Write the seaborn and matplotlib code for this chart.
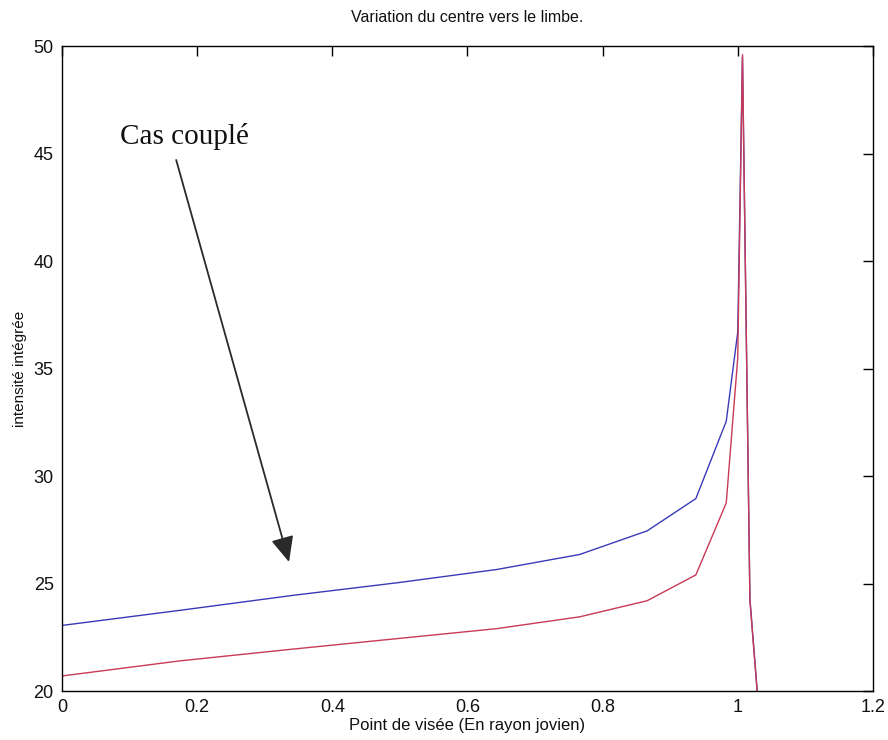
import matplotlib
matplotlib.use("Agg")
import matplotlib.pyplot as plt
import seaborn as sns
import pandas as pd

# ---- data ----
x_pos = [0.0, 0.174, 0.342, 0.5, 0.643, 0.766, 0.866, 0.938, 0.983, 1.0, 1.007, 1.018, 1.029]
blue_vals = [23.05, 23.75, 24.45, 25.05, 25.65, 26.35, 27.45, 28.95, 32.55, 36.7, 49.5, 24.3, 19.9]
red_vals = [20.7, 21.4, 21.95, 22.45, 22.9, 23.45, 24.2, 25.4, 28.75, 35.5, 49.6, 24.2, 19.9]
x_ticks = [0, 0.2, 0.4, 0.6, 0.8, 1.0, 1.2]
x_tick_labels = ["0", "0.2", "0.4", "0.6", "0.8", "1", "1.2"]
y_ticks = [20, 25, 30, 35, 40, 45, 50]

title = "Variation du centre vers le limbe."
xlabel = "Point de visée (En rayon jovien)"
ylabel = "intensité intégrée"
note = "Cas couplé"

sns.set_theme(style="white")
plt.rcParams['font.family'] = ['Liberation Sans', 'DejaVu Sans']

df_blue = pd.DataFrame({"x": x_pos, "y": blue_vals})
df_red = pd.DataFrame({"x": x_pos, "y": red_vals})

fig = plt.figure(figsize=(8.88, 7.40), dpi=100)
ax = fig.add_axes([0.0698, 0.0662, 0.9132, 0.8716])

sns.lineplot(data=df_blue, x="x", y="y", ax=ax, color="#3a3ab8", lw=1.0,
             sort=False, estimator=None)
sns.lineplot(data=df_red, x="x", y="y", ax=ax, color="#c83a55", lw=1.0,
             sort=False, estimator=None)

ax.set_xlim(0, 1.2)
ax.set_ylim(20, 50)
ax.set_xticks(x_ticks)
ax.set_xticklabels(x_tick_labels)
ax.set_yticks(y_ticks)
ax.tick_params(direction="in", length=7, width=1.0, color="black",
               top=True, right=True, labelsize=13, pad=6,
               labelcolor="#111111")
for sp in ax.spines.values():
    sp.set_color("black")
    sp.set_linewidth(1.0)

ax.set_title(title, fontsize=11.5, pad=17, color="#111111")
ax.set_xlabel(xlabel, fontsize=12, labelpad=1, color="#111111")
ax.set_ylabel(ylabel, fontsize=11, labelpad=5, color="#111111")

ax.annotate("", xy=(0.336, 26.0), xytext=(0.169, 44.7),
            arrowprops=dict(arrowstyle="-|>,head_length=0.6,head_width=0.27",
                            color="#2a2a2a", lw=1.3,
                            mutation_scale=26, shrinkA=0, shrinkB=0))
ax.text(0.086, 45.45, note, fontsize=21, family=["Liberation Serif", "DejaVu Serif"],
        ha="left", va="baseline", color="#111111")

fig.savefig("out.png", dpi=100)
